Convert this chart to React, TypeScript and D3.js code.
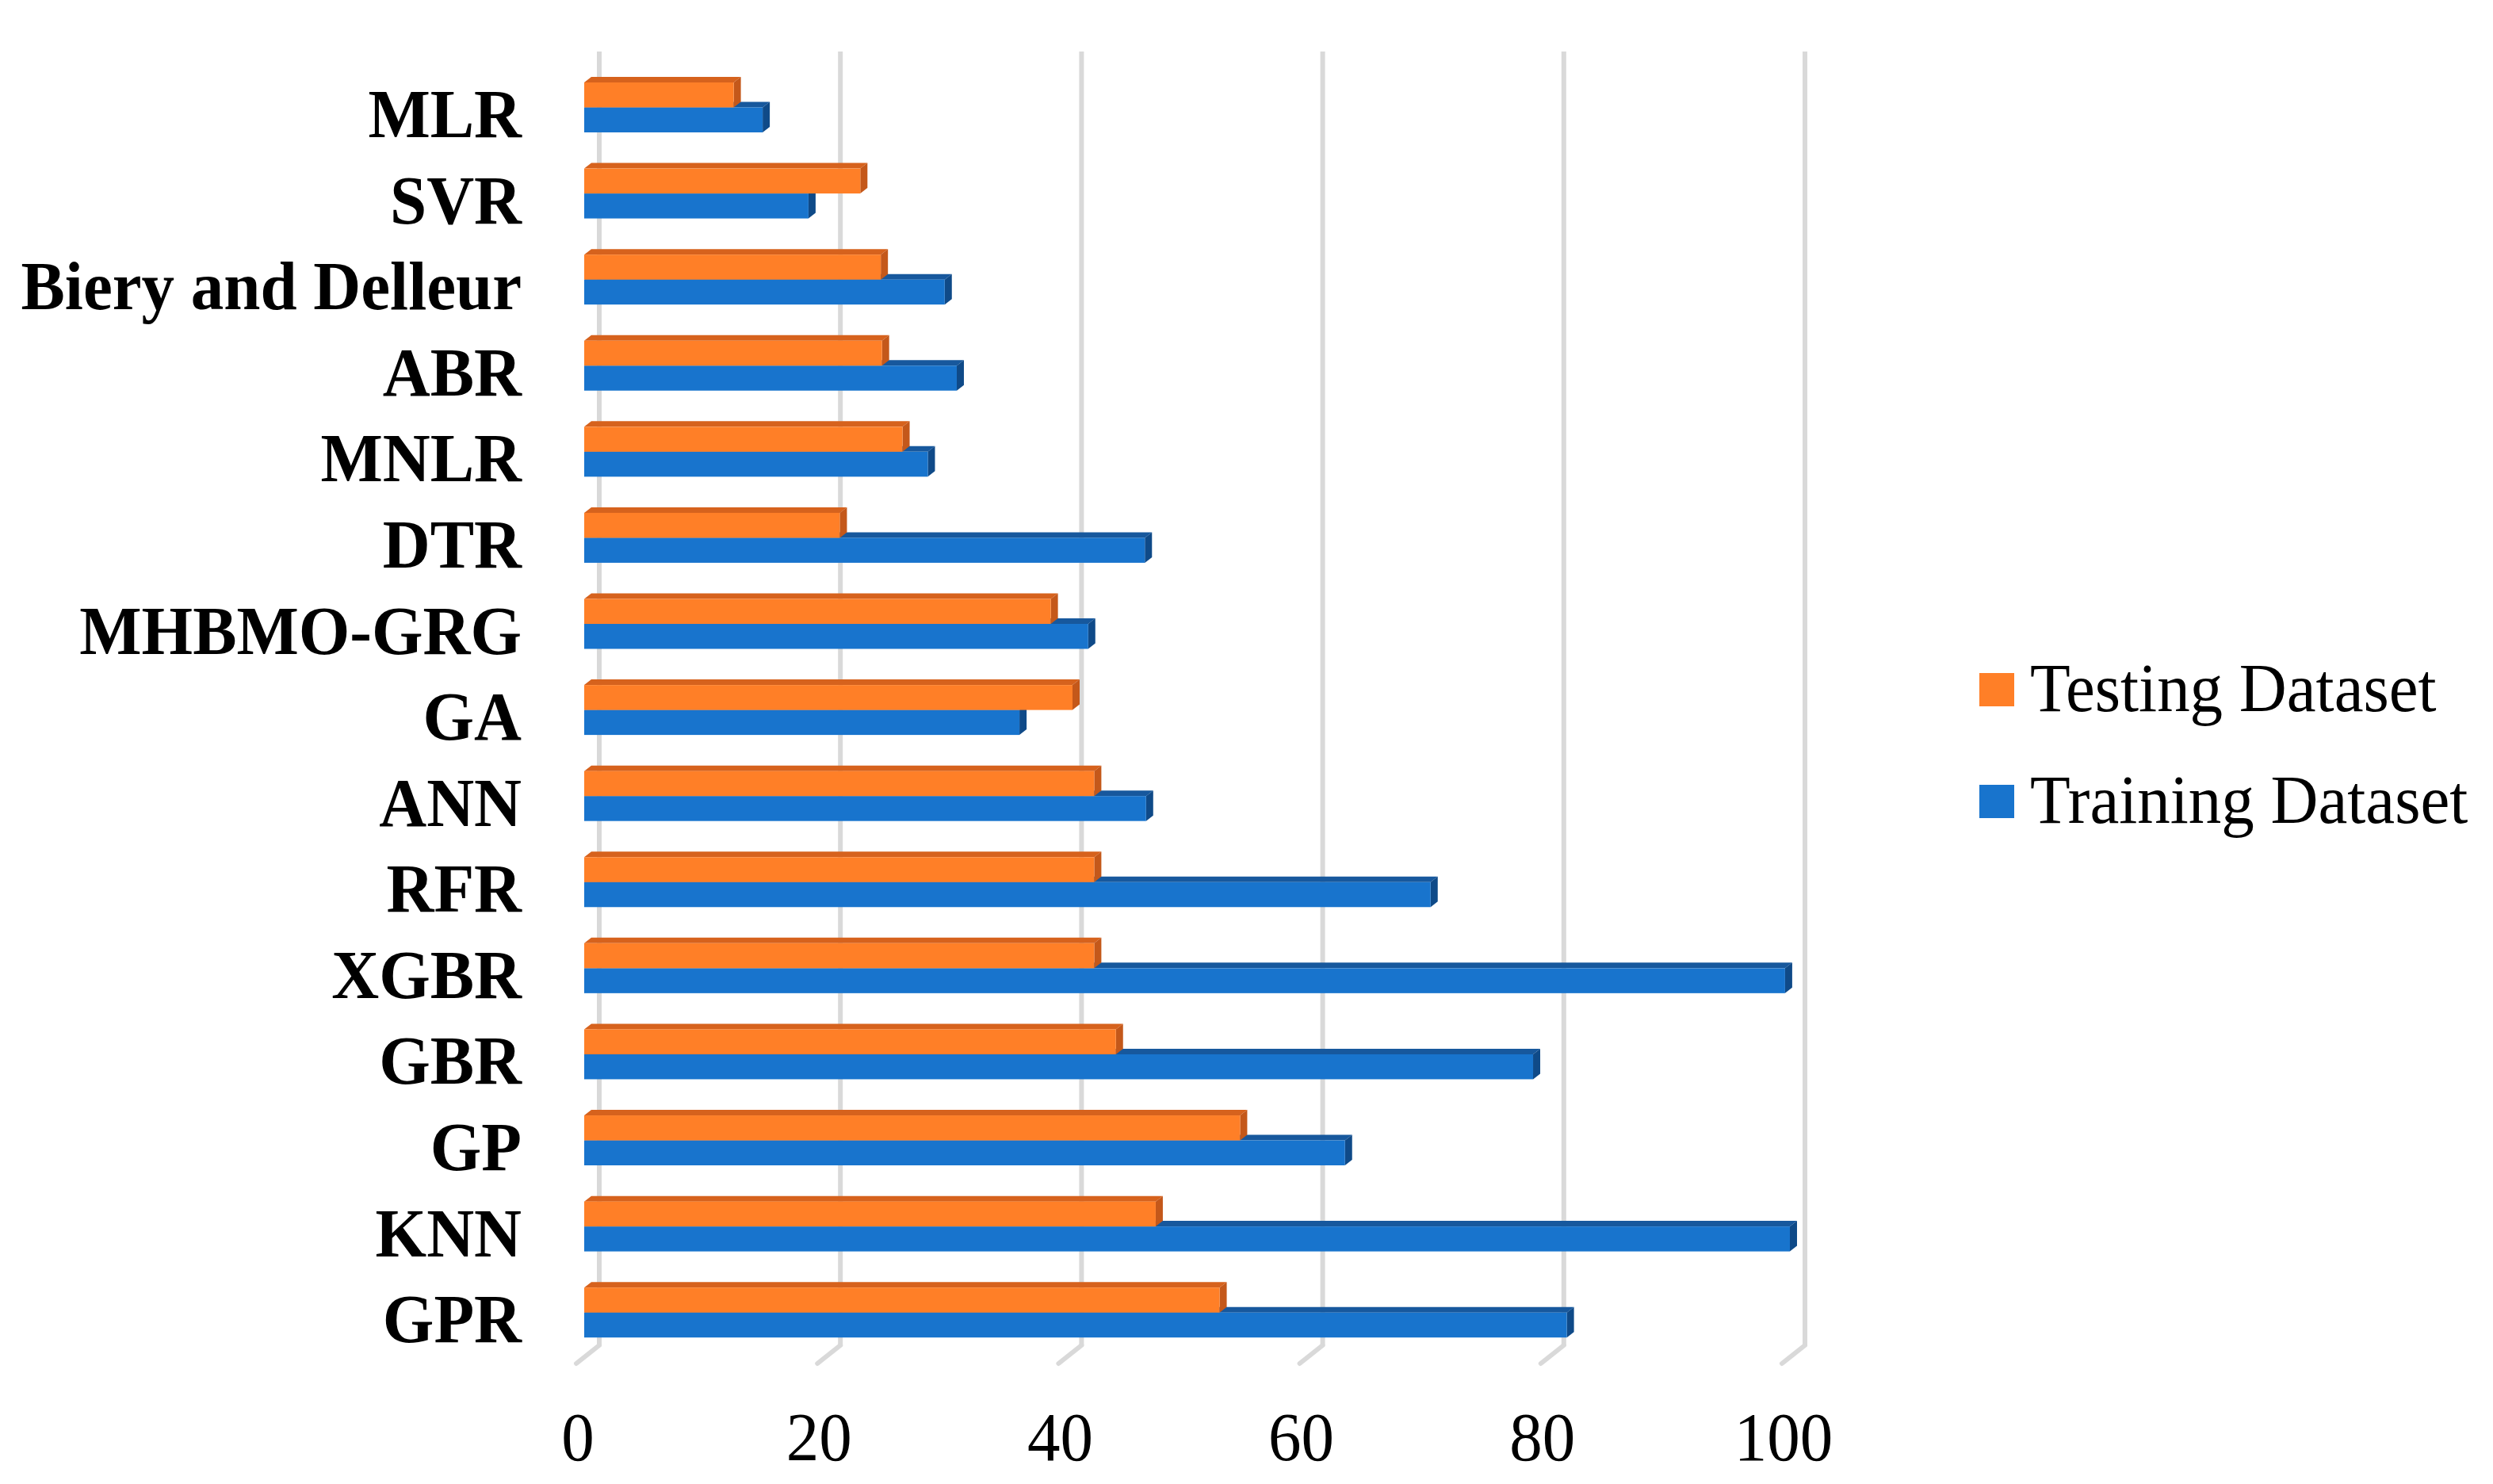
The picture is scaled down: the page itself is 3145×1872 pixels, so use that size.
import React from "react";
import * as d3 from "d3";

const categories = [
  "MLR", "SVR", "Biery and Delleur", "ABR", "MNLR", "DTR", "MHBMO-GRG", "GA",
  "ANN", "RFR", "XGBR", "GBR", "GP", "KNN", "GPR",
];
const testingValues = [12.4, 22.9, 24.6, 24.7, 26.4, 21.2, 38.7, 40.5, 42.3, 42.3, 42.3, 44.1, 54.4, 47.4, 52.7];
const trainingValues = [14.8, 18.6, 29.9, 30.9, 28.5, 46.5, 41.8, 36.1, 46.6, 70.2, 99.6, 78.7, 63.1, 100, 81.5];
const seriesNames = ["Testing Dataset", "Training Dataset"];
const xTicks = [0, 20, 40, 60, 80, 100];

const W = 3145;
const H = 1872;

const palette: Record<string, { front: string; top: string; side: string }> = {
  "Testing Dataset": { front: "#FF7F27", top: "#D6621D", side: "#C4581A" },
  "Training Dataset": { front: "#1874CD", top: "#17589D", side: "#0F4A88" },
};

const FONT = "'Liberation Serif', 'Times New Roman', serif";
const STRETCH = 1.04;

export default function App() {
  const x = d3.scaleLinear().domain([0, 100]).range([737, 2258]);
  const y = d3.scaleBand<string>().domain(categories).range([81.2, 1710]).padding(0);
  const ySub = d3
    .scaleBand<string>()
    .domain(seriesNames)
    .range([0, y.bandwidth()])
    .paddingInner(0)
    .paddingOuter(0.724);

  const DX = 9;
  const DY = 7;
  const backOff = 19;
  const floorOff = -10;
  const wallTop = 65;
  const wallBottom = 1697;
  const floorFront = 1720;

  const bar = (cat: string, series: string, v: number) => {
    const top = (y(cat) as number) + (ySub(series) as number);
    const h = ySub.bandwidth();
    const x0 = x(0);
    const x1 = x(v);
    const c = palette[series];
    const topFace = [
      [x0, top], [x0 + DX, top - DY], [x1 + DX, top - DY], [x1, top],
    ];
    const sideFace = [
      [x1, top], [x1 + DX, top - DY], [x1 + DX, top + h - DY], [x1, top + h],
    ];
    const pts = (p: number[][]) => p.map((q) => q.join(",")).join(" ");
    return (
      <g key={cat + series}>
        <polygon points={pts(topFace)} fill={c.top} />
        <polygon points={pts(sideFace)} fill={c.side} />
        <rect x={x0} y={top} width={x1 - x0} height={h} fill={c.front} />
      </g>
    );
  };

  return (
    <svg
      width={W}
      height={H}
      viewBox={`0 0 ${W} ${H}`}
      style={{ position: "absolute", left: 0, top: 0, background: "#fff" }}
    >
      <rect x={0} y={0} width={W} height={H} fill="#fff" />
      {xTicks.map((t) => (
        <g key={"g" + t}>
          <line
            x1={x(t) + backOff}
            x2={x(t) + backOff}
            y1={wallTop}
            y2={wallBottom}
            stroke="#D9D9D9"
            strokeWidth={6}
          />
          <line
            x1={x(t) + backOff}
            y1={wallBottom}
            x2={x(t) + floorOff}
            y2={floorFront}
            stroke="#D9D9D9"
            strokeWidth={6}
            strokeLinecap="round"
          />
        </g>
      ))}
      {categories.map((cat, i) => (
        <g key={cat}>
          {bar(cat, "Training Dataset", trainingValues[i])}
          {bar(cat, "Testing Dataset", testingValues[i])}
        </g>
      ))}
      {categories.map((cat) => (
        <text
          key={"l" + cat}
          transform={`translate(658, ${(y(cat) as number) + y.bandwidth() / 2 + 37.5}) scale(1, ${STRETCH})`}
          textAnchor="end"
          fontFamily={FONT}
          fontWeight="bold"
          fontSize={83}
          fill="#000"
        >
          {cat}
        </text>
      ))}
      {xTicks.map((t) => (
        <text
          key={"t" + t}
          transform={`translate(${x(t) + floorOff + 2}, 1842) scale(1, ${STRETCH})`}
          textAnchor="middle"
          fontFamily={FONT}
          fontSize={83}
          fill="#000"
        >
          {t}
        </text>
      ))}
      {seriesNames.map((s, i) => (
        <g key={"lg" + s} transform={`translate(2497, ${849 + i * 141})`}>
          <rect x={0} y={0} width={44} height={42} fill={palette[s].front} />
          <text
            transform={`translate(64, 48) scale(1, ${STRETCH})`}
            fontFamily={FONT}
            fontSize={83}
            fill="#000"
          >
            {s}
          </text>
        </g>
      ))}
    </svg>
  );
}
